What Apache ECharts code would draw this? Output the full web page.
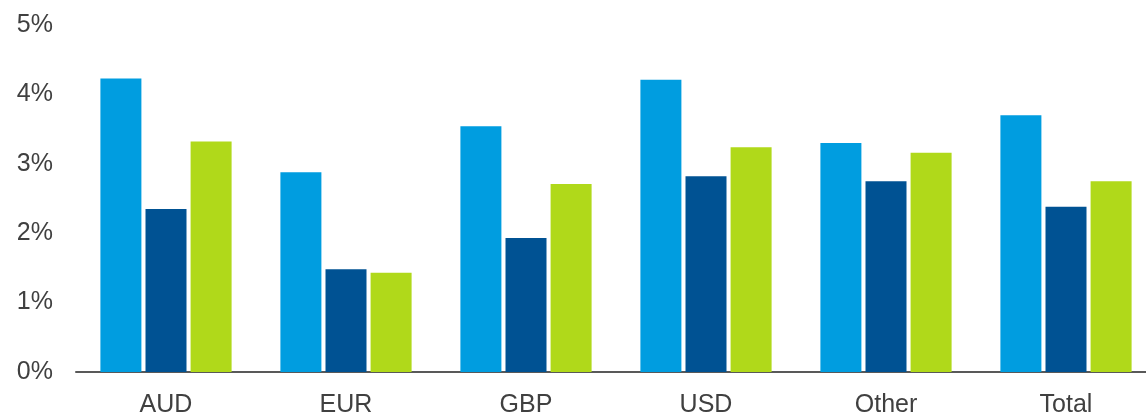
<!DOCTYPE html>
<html>
<head>
<meta charset="utf-8">
<script src="https://cdn.jsdelivr.net/npm/echarts@6/dist/echarts.min.js"></script>
<style>
html,body{margin:0;padding:0;background:#fff;overflow:hidden;}
#chart{width:1146px;height:414px;}
</style>
</head>
<body>
<div id="chart"></div>
<script>
const categories = ['AUD', 'EUR', 'GBP', 'USD', 'Other', 'Total'];
const seriesA = [4.23, 2.88, 3.54, 4.21, 3.30, 3.70];
const seriesB = [2.35, 1.48, 1.93, 2.82, 2.75, 2.38];
const seriesC = [3.32, 1.43, 2.71, 3.24, 3.16, 2.75];
const yTicks = [0, 1, 2, 3, 4, 5];

const chart = echarts.init(document.getElementById('chart'));
const font = 'Liberation Sans, Arial, sans-serif';
function bar(name, data, color) {
  return {
    name: name, type: 'bar', data: data,
    barWidth: 41, barGap: '10%',
    itemStyle: { color: color },
    animation: false
  };
}
chart.setOption({
  animation: false,
  grid: { left: 76, width: 1080, top: 25, bottom: 42, outerBoundsMode: 'none', containLabel: false },
  xAxis: {
    type: 'category', data: categories,
    axisLine: { show: true, lineStyle: { color: '#595959', width: 2 } },
    axisTick: { show: false },
    axisLabel: { fontFamily: font, fontSize: 25, color: '#404040', margin: 21 }
  },
  yAxis: {
    type: 'value', min: yTicks[0], max: yTicks[yTicks.length - 1], interval: 1,
    splitLine: { show: false },
    axisLine: { show: false },
    axisTick: { show: false },
    axisLabel: { fontFamily: font, fontSize: 25, color: '#404040', margin: 23,
      padding: [4, 0, 0, 0],
      formatter: v => v + '%' }
  },
  series: [
    bar('A', seriesA, '#009de0'),
    bar('B', seriesB, '#005293'),
    bar('C', seriesC, '#b0d91a')
  ]
});
</script>
</body>
</html>
